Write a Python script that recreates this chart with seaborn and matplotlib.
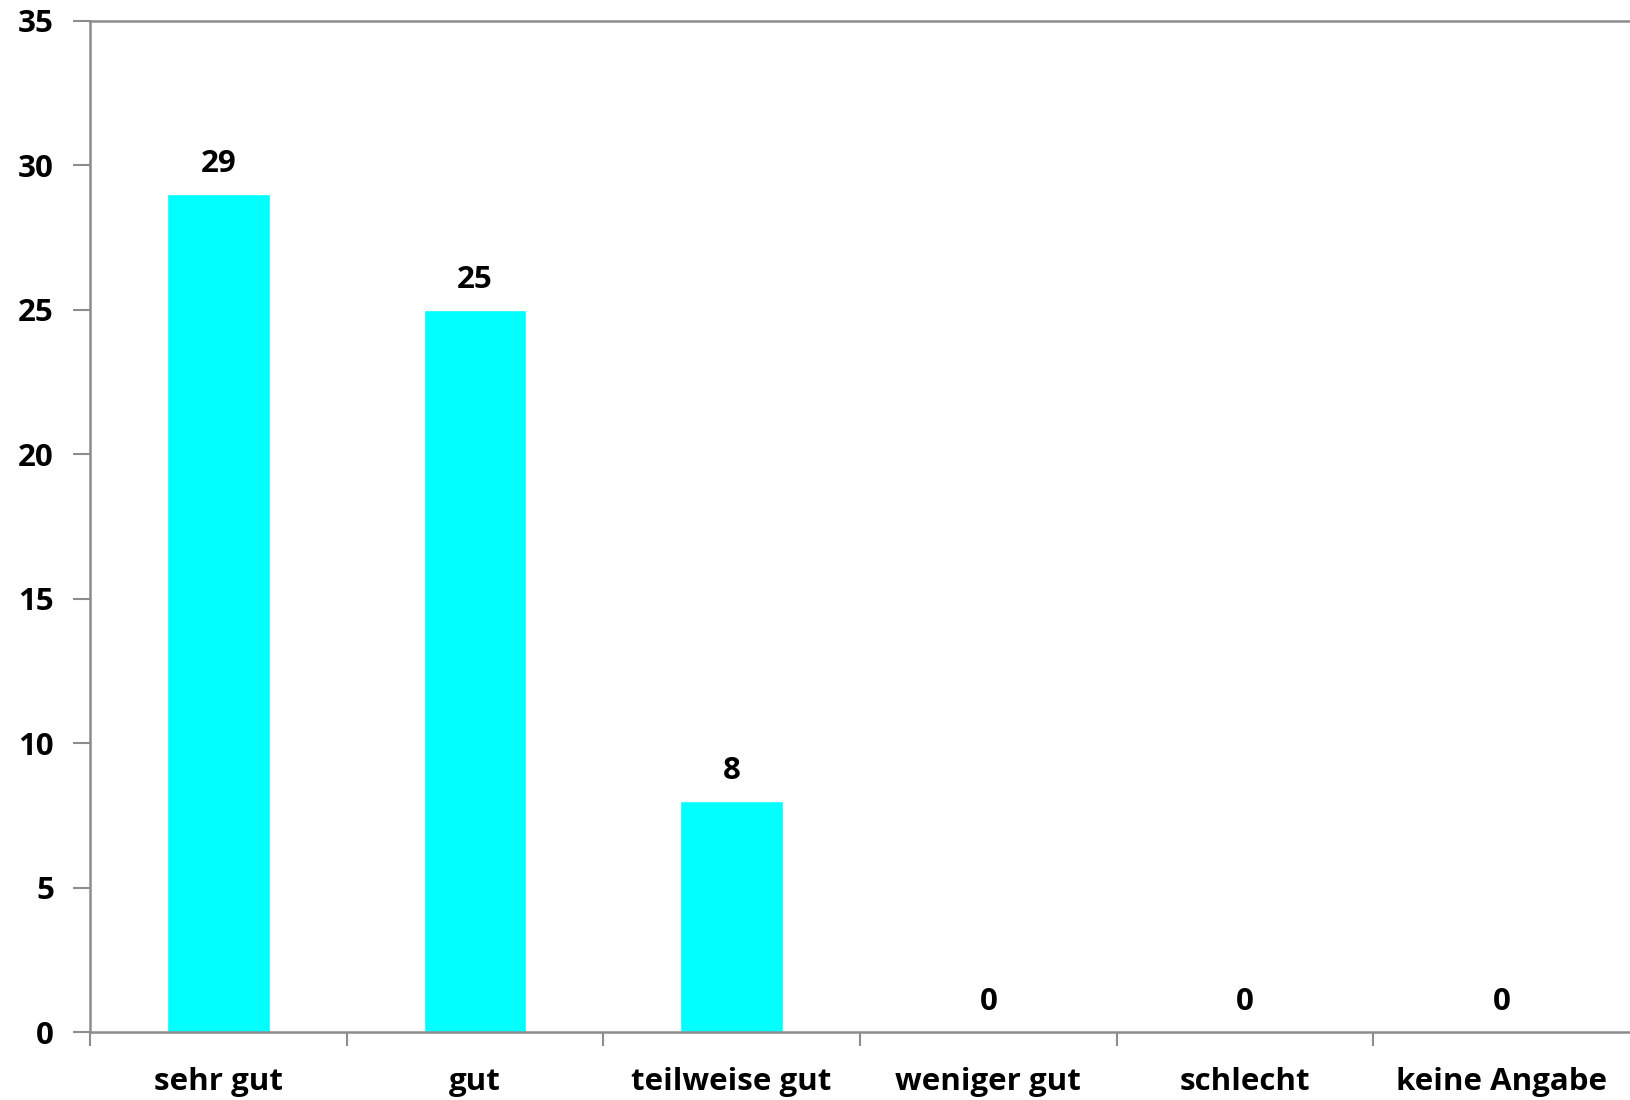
import numpy as np
import pandas as pd
import matplotlib.pyplot as plt
import seaborn as sb

categories = ['sehr gut', 'gut', 'teilweise gut', 'weniger gut', 'schlecht', 'keine Angabe']
counts = [29, 25, 8, 0, 0, 0]

df = pd.DataFrame({'rating': categories, 'count': counts})

sb.set_style('white')
plt.rcParams['font.family'] = ['Open Sans', 'DejaVu Sans']
plt.rcParams['font.weight'] = 'bold'
plt.rcParams['text.color'] = 'black'

fig = plt.figure(figsize=(16.3, 11), dpi=100)
ax = fig.add_axes([0.0552, 0.0618, 0.9448, 0.9192])

sb.barplot(data=df, x='rating', y='count', color='#00FFFF', width=0.4,
           saturation=1, order=categories, ax=ax)

grey = '#8c8c8c'
fs = 22.5
ax.set_xlim(-0.5, 5.5)
ax.set_ylim(0, 35)
ax.set_yticks(np.arange(0, 36, 5))
ax.set_xlabel('')
ax.set_ylabel('')

# category boundaries as major ticks, labels on minor ticks
ax.set_xticks(np.arange(-0.5, 5, 1))
ax.set_xticklabels([])
ax.set_xticks(np.arange(len(categories)), minor=True)
ax.set_xticklabels(categories, minor=True, fontsize=fs, fontweight='bold', color='black')
ax.tick_params(axis='x', which='major', bottom=True, length=10, width=1.5, color=grey,
               direction='out')
ax.tick_params(axis='x', which='minor', bottom=True, length=0, pad=25)
ax.tick_params(axis='y', left=True, length=12, width=1.5, color=grey, direction='out',
               pad=14, labelsize=fs, labelcolor='black')
for lab in ax.get_yticklabels():
    lab.set_fontweight('bold')

for side in ['left', 'bottom', 'top']:
    ax.spines[side].set_color(grey)
    ax.spines[side].set_linewidth(1.8)
ax.spines['right'].set_visible(False)

ax.bar_label(ax.containers[0], labels=[str(v) for v in counts], padding=11,
             fontsize=fs, fontweight='bold', color='black')

fig.savefig('out.png', dpi=100)
